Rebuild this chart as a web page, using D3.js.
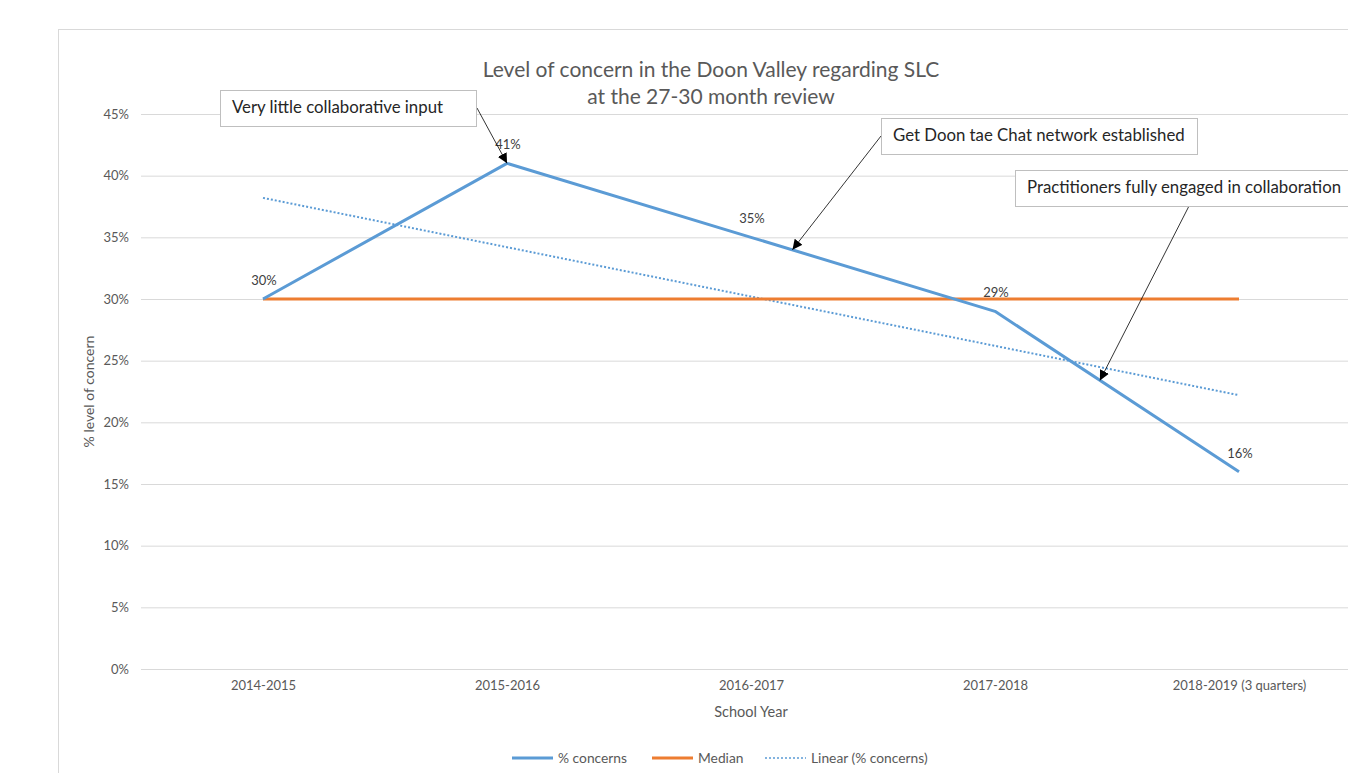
<!DOCTYPE html>
<html>
<head>
<meta charset="utf-8">
<script src="https://cdn.jsdelivr.net/npm/d3@7"></script>
<style>
  body { margin: 0; background: #fff; }
  svg { display: block; font-family: Lato, "Open Sans", sans-serif; }
</style>
</head>
<body>
<svg id="chart" width="1348" height="773"></svg>
<script>
// data
const years = ["2014-2015", "2015-2016", "2016-2017", "2017-2018", "2018-2019 (3 quarters)"];
const concerns = [30, 41, 35, 29, 16];
const median = [30, 30, 30, 30, 30];
const trend = [38.2, 34.2, 30.2, 26.2, 22.2];
const yTicks = [0, 5, 10, 15, 20, 25, 30, 35, 40, 45];
const seriesNames = ["% concerns", "Median", "Linear (% concerns)"];

// callouts: text + where the arrow points (fractional year index, value)
const notes = [
  { text: "Very little collaborative input", box: [220, 90, 256, 36], from: [477, 108], at: [1, 41] },
  { text: "Get Doon tae Chat network established", box: [881, 118, 316, 36], from: [881, 136], at: [2.17, 34.0] },
  { text: "Practitioners fully engaged in collaboration", box: [1015, 170, 340, 36], from: [1189, 206], at: [3.43, 23.4] }
];

const svg = d3.select("#chart");
const plotLeft = 141, plotTop = 114, plotBottom = 669;
const step = 244;

const x = d3.scaleLinear().domain([-0.5, 4.5]).range([plotLeft, plotLeft + step * 5]);
const y = d3.scaleLinear().domain([0, 45]).range([plotBottom, plotTop]);

// outer chart frame
svg.append("rect")
  .attr("x", 58.5).attr("y", 29.5)
  .attr("width", 1400).attr("height", 800)
  .attr("fill", "none").attr("stroke", "#d9d9d9");

// title
const title = svg.append("text")
  .attr("text-anchor", "middle")
  .attr("fill", "#595959")
  .attr("font-size", 21);
title.append("tspan").attr("x", 711).attr("y", 77).text("Level of concern in the Doon Valley regarding SLC");
title.append("tspan").attr("x", 711).attr("y", 104).text("at the 27-30 month review");

// y axis + gridlines
const yAxis = svg.append("g")
  .attr("transform", `translate(${plotLeft},0)`)
  .call(d3.axisLeft(y).tickValues(yTicks).tickSize(-(1348 - plotLeft)).tickPadding(12).tickFormat(d => d + "%"));
yAxis.select(".domain").remove();
yAxis.selectAll("line").attr("stroke", "#d9d9d9");
yAxis.selectAll("text").attr("fill", "#595959").attr("font-size", 13).attr("font-family", "Lato, sans-serif");

// x axis
const xAxis = svg.append("g")
  .attr("transform", `translate(0,${plotBottom})`)
  .call(d3.axisBottom(x).tickValues(d3.range(years.length)).tickSize(0).tickPadding(12).tickFormat(i => years[i]));
xAxis.select(".domain").remove();
xAxis.selectAll("text").attr("fill", "#595959").attr("font-size", 13).attr("font-family", "Lato, sans-serif");

// axis titles
svg.append("text")
  .attr("x", x(2)).attr("y", 717)
  .attr("text-anchor", "middle").attr("fill", "#595959").attr("font-size", 14.5)
  .text("School Year");
svg.append("text")
  .attr("transform", `translate(94,${(plotTop + plotBottom) / 2}) rotate(-90)`)
  .attr("text-anchor", "middle").attr("fill", "#595959").attr("font-size", 14)
  .text("% level of concern");

const line = d3.line().x((d, i) => x(i)).y(d => y(d));

// trend line (dotted)
svg.append("path")
  .datum(trend)
  .attr("d", line)
  .attr("fill", "none")
  .attr("stroke", "#5b9bd5")
  .attr("stroke-width", 2)
  .attr("stroke-dasharray", "2,2");

// median
svg.append("path")
  .datum(median)
  .attr("d", line)
  .attr("fill", "none")
  .attr("stroke", "#ed7d31")
  .attr("stroke-width", 3);

// % concerns
svg.append("path")
  .datum(concerns)
  .attr("d", line)
  .attr("fill", "none")
  .attr("stroke", "#5b9bd5")
  .attr("stroke-width", 3)
  .attr("stroke-linejoin", "round");

// data labels
svg.append("g")
  .selectAll("text")
  .data(concerns)
  .join("text")
  .attr("x", (d, i) => x(i) + 1)
  .attr("y", d => y(d) - 14)
  .attr("text-anchor", "middle")
  .attr("fill", "#404040")
  .attr("font-size", 13)
  .text(d => d + "%");

// arrowhead
svg.append("defs").append("marker")
  .attr("id", "arrow")
  .attr("viewBox", "0 0 10 10")
  .attr("refX", 10).attr("refY", 5)
  .attr("markerWidth", 10).attr("markerHeight", 10)
  .attr("markerUnits", "userSpaceOnUse")
  .attr("orient", "auto")
  .append("path")
  .attr("d", "M0,0 L10,5 L0,10 Z")
  .attr("fill", "#000");

// callouts
const note = svg.append("g")
  .selectAll("g")
  .data(notes)
  .join("g");

note.append("line")
  .attr("x1", d => d.from[0]).attr("y1", d => d.from[1])
  .attr("x2", d => x(d.at[0])).attr("y2", d => y(d.at[1]))
  .attr("stroke", "#000").attr("stroke-width", 0.8)
  .attr("marker-end", "url(#arrow)");

note.append("rect")
  .attr("x", d => d.box[0] + 0.5).attr("y", d => d.box[1] + 0.5)
  .attr("width", d => d.box[2]).attr("height", d => d.box[3])
  .attr("fill", "#fff").attr("stroke", "#bfbfbf");

note.append("text")
  .attr("x", d => d.box[0] + 12)
  .attr("y", d => d.box[1] + 23)
  .attr("fill", "#262626")
  .attr("font-size", 16.8)
  .text(d => d.text);

// legend
const legendItems = [
  { name: seriesNames[0], color: "#5b9bd5", dash: null, x: 512 },
  { name: seriesNames[1], color: "#ed7d31", dash: null, x: 652 },
  { name: seriesNames[2], color: "#5b9bd5", dash: "2,2", x: 765 }
];
const legend = svg.append("g")
  .selectAll("g")
  .data(legendItems)
  .join("g")
  .attr("transform", d => `translate(${d.x},758)`);
legend.append("line")
  .attr("x1", 0).attr("x2", 41)
  .attr("stroke", d => d.color)
  .attr("stroke-width", d => d.dash ? 1.5 : 3)
  .attr("stroke-dasharray", d => d.dash);
legend.append("text")
  .attr("x", 46).attr("y", 5)
  .attr("fill", "#595959")
  .attr("font-size", 13.8)
  .text(d => d.name);
</script>
</body>
</html>
